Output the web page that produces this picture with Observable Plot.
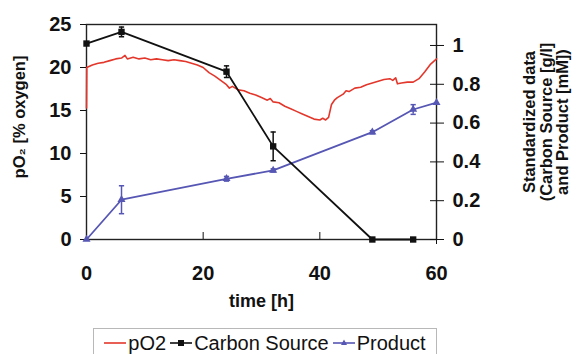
<!DOCTYPE html>
<html>
<head>
<meta charset="utf-8">
<script src="https://cdn.jsdelivr.net/npm/d3@7"></script>
<script src="https://cdn.jsdelivr.net/npm/@observablehq/plot@0.6"></script>
<style>
  html, body { margin: 0; padding: 0; background: #ffffff; }
  #chart { width: 577px; font-family: "Liberation Sans", Arial, sans-serif; }
  #chart > svg { display: block; }
  #legend {
    margin: 6px 0 0 93px; width: 344px; height: 28px;
    border: 1px solid #b8b8b8; border-bottom: none; box-sizing: border-box;
    display: flex; align-items: center; justify-content: center; gap: 4px;
    font-size: 20px; line-height: 22px; color: #111; white-space: nowrap;
    font-family: "Liberation Sans", Arial, sans-serif;
  }
  #legend .item { display: flex; align-items: center; gap: 2px; }
  #legend svg { display: block; }
</style>
</head>
<body>
<div id="chart"></div>
<script>
// ---- data ----
const xTicks = [0, 20, 40, 60];
const leftTicks = [0, 5, 10, 15, 20, 25];
const rightTicks = [0, 0.2, 0.4, 0.6, 0.8, 1];

// pO2 [% oxygen], left axis
const pO2Time  = [0, 0.05, 1, 2, 3, 4, 5, 6, 6.6, 7, 8, 9, 10, 11, 12, 13, 14, 15, 16, 17, 18, 19, 20, 21, 22, 23, 24, 24.5, 25, 26, 27, 28, 29, 30, 31, 31.5, 32, 33, 34, 35, 36, 37, 38, 39, 40, 40.5, 41, 41.5, 42, 42.5, 43, 44, 44.5, 45, 46, 47, 48, 49, 50, 51, 52, 52.5, 53, 53.3, 54, 55, 56, 57, 58, 59, 60];
const pO2Value = [15.3, 20.0, 20.3, 20.5, 20.6, 20.8, 21.0, 21.1, 21.4, 21.0, 21.2, 21.0, 21.1, 20.9, 21.0, 20.9, 20.8, 20.9, 20.8, 20.7, 20.5, 20.3, 20.0, 19.4, 19.0, 18.5, 18.0, 17.6, 17.8, 17.4, 17.3, 17.0, 16.8, 16.5, 16.2, 16.4, 16.0, 15.9, 15.5, 15.2, 14.9, 14.6, 14.3, 14.0, 13.9, 14.1, 13.9, 14.2, 15.7, 16.2, 16.5, 16.9, 17.3, 17.2, 17.6, 17.7, 18.0, 18.2, 18.4, 18.6, 18.7, 18.5, 18.8, 18.1, 18.2, 18.3, 18.3, 18.7, 19.5, 20.4, 21.0];

// Carbon source (standardized), right axis
const carbonTime  = [0, 6, 24, 32, 49, 56];
const carbonValue = [1.01, 1.07, 0.865, 0.48, 0, 0];
const carbonErr   = [0, 0.025, 0.03, 0.074, 0, 0];

// Product (standardized), right axis
const productTime  = [0, 6, 24, 32, 49, 56, 60];
const productValue = [0, 0.205, 0.313, 0.356, 0.553, 0.67, 0.705];
const productErr   = [0, 0.072, 0.012, 0.008, 0.008, 0.025, 0];

// legend entries
const legendNames = ["pO2", "Carbon Source", "Product"];

// ---- tables ----
const K = 22.56; // right-axis unit expressed in left-axis units
const pO2 = pO2Time.map((t, i) => ({t, v: pO2Value[i]}));
const carbon = carbonTime.map((t, i) => ({t, v: carbonValue[i] * K, lo: (carbonValue[i] - carbonErr[i]) * K, hi: (carbonValue[i] + carbonErr[i]) * K, e: carbonErr[i]}));
const product = productTime.map((t, i) => ({t, v: productValue[i] * K, lo: (productValue[i] - productErr[i]) * K, hi: (productValue[i] + productErr[i]) * K, e: productErr[i]}));
const carbonBars = carbon.filter(d => d.e > 0);
const productBars = product.filter(d => d.e > 0);
const CAP = 0.45;

const RED = "#e3372c", BLACK = "#111111", BLUE = "#5656b4";
const font = {fontSize: 20, fontWeight: "bold"};

const chart = Plot.plot({
  width: 577, height: 322,
  marginTop: 24, marginBottom: 83, marginLeft: 86, marginRight: 141,
  style: {fontFamily: "'Liberation Sans', Arial, sans-serif", color: "#111", background: "#ffffff"},
  x: {domain: [0, 60]},
  y: {domain: [0, 25]},
  marks: [
    Plot.frame({stroke: "#222", strokeWidth: 1.4}),
    // left axis
    Plot.axisY({ticks: leftTicks, tickSize: 6, tickPadding: 9, ...font, label: null}),
    // right axis (standardized), crossing ticks
    Plot.axisY({anchor: "right", ticks: rightTicks.map(v => v * K), tickFormat: (d, i) => String(rightTicks[i]), tickSize: 7, tickPadding: 9, ...font, label: null}),
    Plot.axisY({anchor: "right", ticks: rightTicks.map(v => v * K), tickSize: -7, label: null, text: null}),
    // x axis
    Plot.axisX({ticks: xTicks, tickSize: 0, tickPadding: 26, ...font, label: null}),
    Plot.axisX({ticks: xTicks.slice(1, 3), tickSize: -7, label: null, text: null}),
    Plot.axisX({ticks: [60], tickSize: 5, label: null, text: null}),
    // pO2 line
    Plot.line(pO2, {x: "t", y: "v", stroke: RED, strokeWidth: 1.6}),
    // product
    Plot.line(product, {x: "t", y: "v", stroke: BLUE, strokeWidth: 1.8}),
    Plot.ruleX(productBars, {x: "t", y1: "lo", y2: "hi", stroke: BLUE, strokeWidth: 1.5}),
    Plot.link(productBars, {x1: d => d.t - CAP, x2: d => d.t + CAP, y1: "lo", y2: "lo", stroke: BLUE, strokeWidth: 1.5}),
    Plot.link(productBars, {x1: d => d.t - CAP, x2: d => d.t + CAP, y1: "hi", y2: "hi", stroke: BLUE, strokeWidth: 1.5}),
    Plot.dot(product, {x: "t", y: "v", symbol: "triangle", r: 3, fill: BLUE}),
    // carbon source
    Plot.line(carbon, {x: "t", y: "v", stroke: BLACK, strokeWidth: 1.8}),
    Plot.ruleX(carbonBars, {x: "t", y1: "lo", y2: "hi", stroke: BLACK, strokeWidth: 1.5}),
    Plot.link(carbonBars, {x1: d => d.t - CAP, x2: d => d.t + CAP, y1: "lo", y2: "lo", stroke: BLACK, strokeWidth: 1.5}),
    Plot.link(carbonBars, {x1: d => d.t - CAP, x2: d => d.t + CAP, y1: "hi", y2: "hi", stroke: BLACK, strokeWidth: 1.5}),
    Plot.dot(carbon, {x: "t", y: "v", symbol: "square", r: 3.6, fill: BLACK}),
    // titles
    Plot.text(["pO₂ [% oxygen]"], {frameAnchor: "left", rotate: -90, dx: -67, dy: -15, textAnchor: "middle", lineAnchor: "middle", fontSize: 16.5, fontWeight: "bold"}),
    Plot.text(["Standardized data\n(Carbon Source [g/l]\nand Product [mM])"], {frameAnchor: "right", rotate: -90, dx: 87, dy: -10, textAnchor: "middle", lineAnchor: "top", lineHeight: 1.0, fontSize: 16.5, fontWeight: "bold"}),
    Plot.text(["time [h]"], {frameAnchor: "bottom", dy: 62, textAnchor: "middle", lineAnchor: "middle", fontSize: 18, fontWeight: "bold"})
  ]
});
const root = document.getElementById("chart");
root.appendChild(chart);

// legend (HTML, below the SVG)
const legendBox = document.createElement("div");
legendBox.id = "legend";
const NS = "http://www.w3.org/2000/svg";
const legendColors = [RED, BLACK, BLUE];
const legendSymbols = [null, "square", "triangle"];
legendNames.forEach((name, i) => {
  const item = document.createElement("span");
  item.className = "item";
  const sw = document.createElementNS(NS, "svg");
  sw.setAttribute("width", "22");
  sw.setAttribute("height", "16");
  const ln = document.createElementNS(NS, "line");
  ln.setAttribute("x1", "0"); ln.setAttribute("x2", "22");
  ln.setAttribute("y1", "8"); ln.setAttribute("y2", "8");
  ln.setAttribute("stroke", legendColors[i]); ln.setAttribute("stroke-width", "1.6");
  sw.appendChild(ln);
  if (legendSymbols[i] === "square") {
    const r = document.createElementNS(NS, "rect");
    r.setAttribute("x", "8"); r.setAttribute("y", "5"); r.setAttribute("width", "6"); r.setAttribute("height", "6");
    r.setAttribute("fill", legendColors[i]);
    sw.appendChild(r);
  } else if (legendSymbols[i] === "triangle") {
    const p = document.createElementNS(NS, "path");
    p.setAttribute("d", "M11,4.5 L14,10 L8,10 Z");
    p.setAttribute("fill", legendColors[i]);
    sw.appendChild(p);
  }
  item.appendChild(sw);
  const label = document.createElement("span");
  label.textContent = name;
  item.appendChild(label);
  legendBox.appendChild(item);
});
root.appendChild(legendBox);
</script>
</body>
</html>
